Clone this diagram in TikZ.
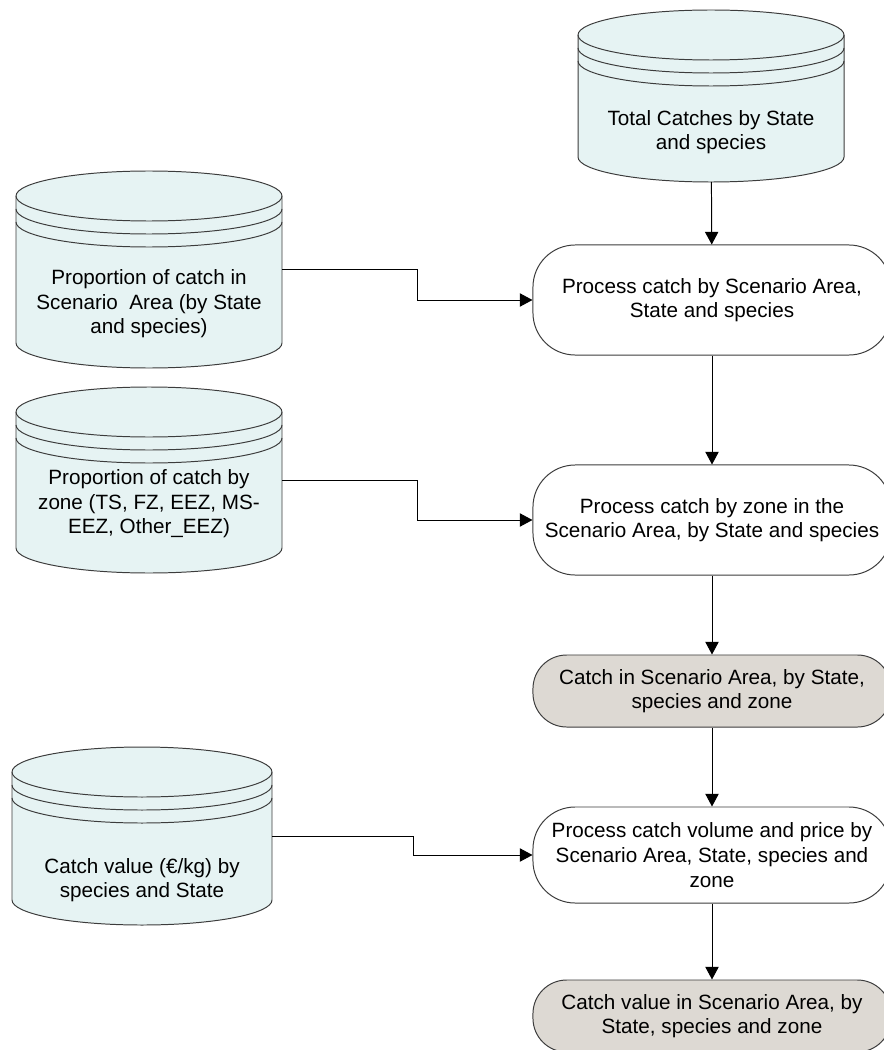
\documentclass[tikz,border=0pt]{standalone}
\usepackage{fontspec}
\setmainfont{Liberation Sans}
\usetikzlibrary{arrows.meta}
\definecolor{storefill}{RGB}{230,243,243}
\definecolor{resultfill}{RGB}{221,217,211}
\definecolor{edgegrey}{RGB}{60,60,60}
\tikzset{
  store/.style={draw=edgegrey,line width=0.7pt,fill=storefill},
  storeline/.style={draw=edgegrey,line width=0.7pt},
  storebody/.style={inner sep=0pt,outer sep=0pt},
  txt/.style={font=\fontsize{14.7}{17.5}\selectfont,align=center,inner sep=0pt},
  proc/.style={txt,draw=edgegrey,line width=0.7pt,fill=white,rounded corners=30pt,minimum width=8.95cm,minimum height=#1},
  result/.style={proc=#1,fill=resultfill,rounded corners=24pt},
  flow/.style={line width=0.7pt,-{Triangle[length=9pt,width=9.5pt]}}
}
% data store: name, centre x, side top, side bottom, half width, text y, text
\newcommand{\datastore}[7]{%
  \filldraw[store] (#2-#5,#3) -- (#2-#5,#4) arc[start angle=180,end angle=0,x radius=#5,y radius=25]
    -- (#2+#5,#3) arc[start angle=0,end angle=-180,x radius=#5,y radius=25] -- cycle;
  \foreach \d in {0,13,26}
    \draw[storeline] (#2-#5,#3+\d) arc[start angle=180,end angle=0,x radius=#5,y radius=25];
  \node[storebody,minimum width=#5*0.05cm,minimum height=(#4-#3+50)*0.025cm] (#1) at (#2,{(#3+#4)/2}) {};
  \node[txt] (#1-txt) at (#2,#6) {#7};
}

\begin{document}
\begin{tikzpicture}[x=0.025cm,y=-0.025cm]
  \useasboundingbox (0,0) rectangle (883,1050);

  % stores
  \datastore{totals}{711}{35}{157}{133}{132}{Total Catches by State\\and species}
  \datastore{areashare}{149}{196}{343}{133}{304}{Proportion of catch in\\Scenario~ Area (by State\\and species)}
  \datastore{zoneshare}{149}{412}{548}{133}{504}{Proportion of catch by\\zone (TS, FZ, EEZ, MS-\\EEZ, Other\_EEZ)}
  \datastore{unitprice}{142}{772}{900}{130}{880}{Catch value (€/kg) by\\species and State}

  % processes and results
  \node[proc=2.75cm] (areaproc) at (712,300) {Process catch by Scenario Area,\\State and species};
  \node[proc=2.75cm] (zoneproc) at (712,520) {Process catch by zone in the\\Scenario Area, by State and species};
  \node[result=1.8cm] (zonecatch) at (712,691) {Catch in Scenario Area, by State,\\species and zone};
  \node[proc=2.4cm] (valueproc) at (712,855) {Process catch volume and price by\\Scenario Area, State, species and\\zone};
  \node[result=1.8cm] (zonevalue) at (712,1016) {Catch value in Scenario Area, by\\State, species and zone};

  % flows
  \draw[flow] (totals) -- (areaproc);
  \draw[flow] (areaproc) -- (zoneproc);
  \draw[flow] (zoneproc) -- (zonecatch);
  \draw[flow] (zonecatch) -- (valueproc);
  \draw[flow] (valueproc) -- (zonevalue);
  \draw[flow] (areashare.east) -- ++(135,0) |- (areaproc.west);
  \draw[flow] (zoneshare.east) -- ++(135,0) |- (zoneproc.west);
  \draw[flow] (unitprice.east) -- ++(141,0) |- (valueproc.west);
\end{tikzpicture}
\end{document}
